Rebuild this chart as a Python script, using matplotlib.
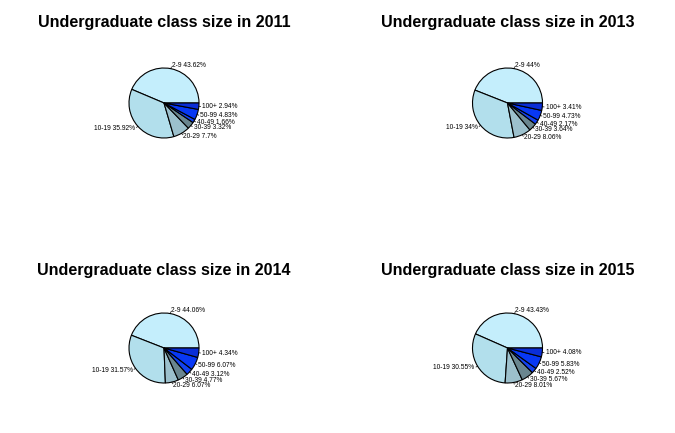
import numpy as np
import matplotlib
matplotlib.use("Agg")
import matplotlib.pyplot as plt

plt.rcParams['font.family'] = ['Liberation Sans', 'DejaVu Sans']

categories = ["2-9", "10-19", "20-29", "30-39", "40-49", "50-99", "100+"]
years = ["2011", "2013", "2014", "2015"]
values_2011 = [43.62, 35.92, 7.7, 3.32, 1.66, 4.83, 2.94]
values_2013 = [44, 34, 8.06, 3.64, 2.17, 4.73, 3.41]
values_2014 = [44.06, 31.57, 6.07, 4.77, 3.12, 6.07, 4.34]
values_2015 = [43.43, 30.55, 8.01, 5.67, 2.52, 5.83, 4.08]
all_values = [values_2011, values_2013, values_2014, values_2015]

colors = ["#c4eefc", "#b2dfec", "#9cc0cc", "#6a868f", "#1242f0", "#0838f4", "#0a2ed8"]

W, H = 675, 433
fig = plt.figure(figsize=(W / 100, H / 100), dpi=100)

centers = [(164, 103), (507.5, 103), (164, 348), (507.5, 348)]
title_y = [22, 22, 270, 270]
R = 35.0  # pixels per unit radius

for vals, yr, (cx, cy), ty in zip(all_values, years, centers, title_y):
    aw, ah = 6 * R, 4 * R
    ax = fig.add_axes([(cx - aw / 2) / W, 1 - (cy + ah / 2) / H, aw / W, ah / H])
    ax.axis('off')
    ax.pie(vals, colors=colors, startangle=0, counterclock=True, radius=1,
           wedgeprops=dict(edgecolor='black', linewidth=0.8))
    ax.set_xlim(-3, 3)
    ax.set_ylim(-2, 2)
    ax.set_aspect('equal')
    total = sum(vals)
    cum = 0.0
    for cat, v in zip(categories, vals):
        mid = 2 * np.pi * (cum + v / 2) / total
        cum += v
        c, s = np.cos(mid), np.sin(mid)
        ax.plot([c, 1.05 * c], [s, 1.05 * s], color='black', lw=0.5)
        ax.text(1.1 * c, 1.1 * s, f"{cat} {v:g}%", fontsize=4.8,
                ha='left' if c >= 0 else 'right', va='center')
    fig.text(cx / W, 1 - ty / H, f"Undergraduate class size in {yr}",
             ha='center', va='center', fontsize=11.6, fontweight='bold')

fig.savefig("out.png", dpi=100)
